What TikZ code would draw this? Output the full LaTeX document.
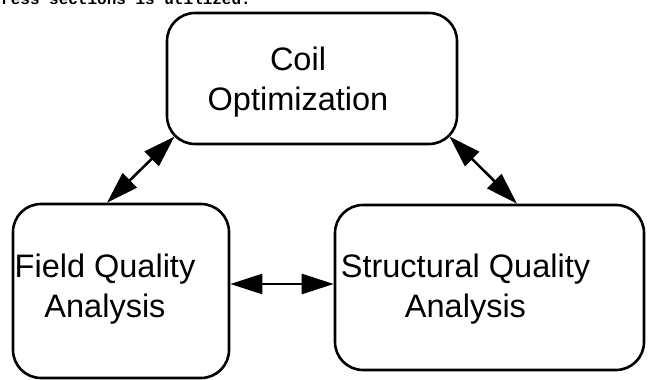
\documentclass[tikz,border=0pt]{standalone}
\usepackage{fontspec}
\setmainfont{Liberation Sans}
\newfontfamily\pagefont{Liberation Mono}
\usetikzlibrary{arrows.meta, calc}

\begin{document}
\begin{tikzpicture}[
        x = 1pt, y = 1pt,
        block/.style = {
            draw,
            line width = 2.6pt,
            rounded corners = 28pt,
            inner sep = 0pt
        },
        blocktext/.style = {
            align = center,
            font = \fontsize{32.5}{40}\selectfont,
            inner sep = 0pt
        },
        link/.style = {
            {Triangle[length = 32pt, width = 20pt]}-{Triangle[length = 32pt, width = 20pt]},
            line width = 2.6pt
        }
    ]
        \useasboundingbox (0,0) rectangle (649,380);

        % line of the page above the figure, cut by the frame
        \node[anchor = base west, inner sep = 0pt, font = \pagefont\bfseries\fontsize{16}{18}\selectfont] (pagetext) at (1,375.5) {ress sections is utilized.};

        \node[block, minimum width = 290pt, minimum height = 131pt] (coil) at (312,301.5) {};
        \node[block, minimum width = 216pt, minimum height = 174pt] (field) at (121,89) {};
        \node[block, minimum width = 309pt, minimum height = 165pt] (struct) at (489.5,92.5) {};

        \node[blocktext] (coiltxt) at ([shift = {(-14,-3.5)}]coil.center) {Coil\\Optimization};
        \node[blocktext] (fieldtxt) at ([shift = {(-16,2)}]field.center) {Field Quality\\Analysis};
        \node[blocktext] (structtxt) at ([shift = {(-24,-1.5)}]struct.center) {Structural Quality\\Analysis};

        \draw[link] ([shift = {(8.8,8.8)}]coil.south west) -- ([xshift = -14pt]field.north);
        \draw[link] ([shift = {(-8.8,8.8)}]coil.south east) -- ([xshift = 27.5pt]struct.north);
        \draw[link] ([yshift = 7pt]field.east) -- ([yshift = 7pt]field.east -| struct.west);
    \end{tikzpicture}
\end{document}
